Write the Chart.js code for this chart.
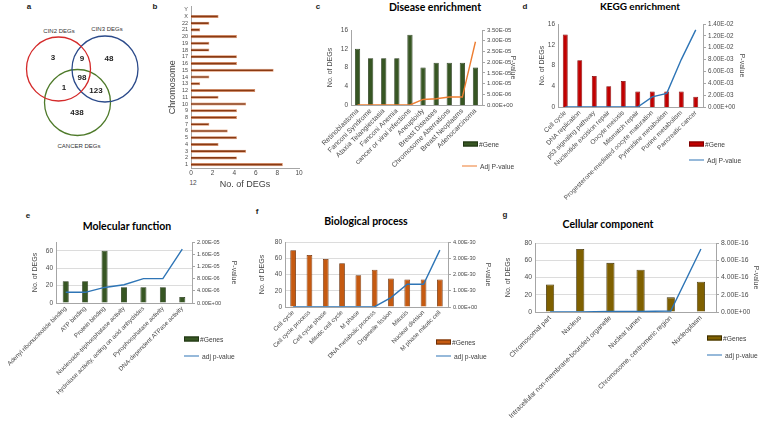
<!DOCTYPE html>
<html>
<head>
<title>DEG overlap and enrichment</title>
<script src="https://cdn.jsdelivr.net/npm/chart.js@4"></script>
<style>
    body { margin: 0; width: 760px; height: 426px; position: relative; overflow: hidden; background: #fff;
           font-family: 'Liberation Sans', Arial, sans-serif; }
    canvas { position: absolute; }
    .txt { position: absolute; white-space: nowrap; transform: translate(-50%, -50%); }
    .letter { font-size: 8px; font-weight: bold; color: #222; }
    .title { font-family: Lato, 'Open Sans', sans-serif; font-weight: bold; font-size: 10.5px; color: #000; }
    .set { font-size: 6px; color: #333; }
    .lg { position: absolute; display: flex; align-items: center; transform: translateY(-50%);
          font-size: 6.7px; color: #404040; white-space: nowrap; }
    .sw { display: inline-block; width: 15px; height: 5px; border: 1px solid; box-sizing: border-box; margin-right: 1px; }
    .ln { display: inline-block; width: 15px; height: 0; border-top: 1.5px solid; margin-right: 3px; }
</style>
</head>
<body>
<!-- panel letters -->
<div class="txt letter" style="left:29px;top:6px">a</div>
<div class="txt letter" style="left:155px;top:6px">b</div>
<div class="txt letter" style="left:318px;top:6px">c</div>
<div class="txt letter" style="left:525px;top:6px">d</div>
<div class="txt letter" style="left:28px;top:215px">e</div>
<div class="txt letter" style="left:257px;top:211px">f</div>
<div class="txt letter" style="left:505px;top:214px">g</div>

<!-- titles -->
<div class="txt title" style="left:435px;top:7px">Disease enrichment</div>
<div class="txt title" style="left:640px;top:6px;font-size:10px">KEGG enrichment</div>
<div class="txt title" style="left:127px;top:226px">Molecular function</div>
<div class="txt title" style="left:366px;top:221px">Biological process</div>
<div class="txt title" style="left:608px;top:224px">Cellular component</div>

<!-- venn set names -->
<div class="txt set" style="left:59px;top:31px">CIN2 DEGs</div>
<div class="txt set" style="left:107px;top:29px">CIN3 DEGs</div>
<div class="txt set" style="left:79px;top:146px">CANCER DEGs</div>
<div class="txt" style="left:193px;top:182px;font-size:6.5px;color:#4a4a4a">12</div>

<canvas id="chartA" width="150" height="160" style="left:0;top:0"></canvas>
<canvas id="chartB" width="155" height="195" style="left:150px;top:0"></canvas>
<canvas id="chartC" width="225" height="200" style="left:305px;top:12px"></canvas>
<canvas id="chartD" width="230" height="200" style="left:530px;top:12px"></canvas>
<canvas id="chartE" width="255" height="198" style="left:0;top:228px"></canvas>
<canvas id="chartF" width="250" height="198" style="left:255px;top:228px"></canvas>
<canvas id="chartG" width="290" height="198" style="left:470px;top:228px"></canvas>

<!-- legends -->
<div class="lg" style="left:463px;top:144px"><span class="sw" style="background:#375623;border-color:#1f3313"></span>#Gene</div>
<div class="lg" style="left:462px;top:166px"><span class="ln" style="border-color:#ED7D31"></span>Adj P-value</div>
<div class="lg" style="left:689px;top:144px"><span class="sw" style="background:#C00000;border-color:#7a0000"></span>#Gene</div>
<div class="lg" style="left:689px;top:160px"><span class="ln" style="border-color:#2E75B6"></span>Adj P-value</div>
<div class="lg" style="left:184px;top:339px"><span class="sw" style="background:#375623;border-color:#1f3313"></span>#Genes</div>
<div class="lg" style="left:184px;top:356px"><span class="ln" style="border-color:#2E75B6"></span>adj p-value</div>
<div class="lg" style="left:436px;top:342px"><span class="sw" style="background:#C55A11;border-color:#6b2f08"></span>#Genes</div>
<div class="lg" style="left:436px;top:356px"><span class="ln" style="border-color:#2E75B6"></span>adj p-value</div>
<div class="lg" style="left:707px;top:338px"><span class="sw" style="background:#7F6000;border-color:#3a2c00"></span>#Genes</div>
<div class="lg" style="left:707px;top:355px"><span class="ln" style="border-color:#2E75B6"></span>adj p-value</div>

<script>
    // ---- data ----
    // Venn: CIN2 only, CIN2&CIN3, CIN3 only, all three, CIN2&cancer, CIN3&cancer, cancer only
    const vennCounts = [3, 9, 48, 98, 1, 123, 438];

    const chromosomes = ['1', '2', '3', '4', '5', '6', '7', '8', '9', '10', '11', '12', '13', '14', '15', '16',
        '17', '18', '19', '20', '21', '22', 'X', 'Y'];
    const chromDegs = [8.5, 4.25, 5.1, 2.55, 4.25, 3.4, 1.7, 4.25, 4.25, 5.1, 2.55, 5.95, 0.85, 1.7, 7.65, 4.25,
        4.25, 1.7, 1.7, 4.25, 0.85, 1.7, 2.55, 0];

    const diseaseNames = ['Retinoblastoma', 'Fanconi Syndrome', 'Ataxia Telangiectasia', 'Fanconi Anemia',
        'cancer or viral infections', 'Aneuploidy', 'Breast Diseases', 'Chromosome Aberrations',
        'Breast Neoplasms', 'Adenocarcinoma'];
    const diseaseGenes = [12, 10, 10, 10, 15, 8, 9, 9, 9, 8];
    const diseasePval = [0, 0, 0, 0, 0, 2.6e-6, 2.9e-6, 3.7e-6, 3.7e-6, 2.95e-5];

    const keggNames = ['Cell cycle', 'DNA replication', 'p53 signaling pathway', 'Nucleotide excision repair',
        'Oocyte meiosis', 'Mismatch repair', 'Progesterone-mediated oocyte maturation', 'Pyrimidine metabolism',
        'Purine metabolism', 'Pancreatic cancer'];
    const keggGenes = [14, 9, 6, 4, 5, 3, 3, 3, 3, 2];
    const keggPval = [0, 0, 0, 0, 0, 0, 1.7e-3, 2.3e-3, 8.0e-3, 1.3e-2];

    const mfNames = ['Adenyl ribonucleotide binding', 'ATP binding', 'Protein binding',
        'Nucleoside-triphosphatase activity', 'Hydrolase activity, acting on acid anhydrides',
        'Pyrophosphatase activity', 'DNA-dependent ATPase activity'];
    const mfGenes = [25, 25, 60, 18, 18, 18, 7];
    const mfPval = [3.5e-6, 3.5e-6, 5.1e-6, 6.0e-6, 8.0e-6, 8.0e-6, 1.77e-5];

    const bpNames = ['Cell cycle', 'Cell cycle process', 'Cell cycle phase', 'Mitotic cell cycle', 'M phase',
        'DNA metabolic process', 'Organelle fission', 'Mitosis', 'Nuclear division', 'M phase mitotic cell'];
    const bpGenes = [70, 64, 59, 54, 39, 46, 35, 34, 34, 34];
    const bpPval = [0, 0, 0, 0, 0, 2e-32, 5.8e-31, 1.4e-30, 1.4e-30, 3.5e-30];

    const ccNames = ['Chromosomal part', 'Nucleus', 'Intracellular non-membrane-bounded organelle',
        'Nuclear lumen', 'Chromosome, centromeric region', 'Nucleoplasm'];
    const ccGenes = [32, 73, 57, 49, 17, 35];
    const ccPval = [0, 0, 5e-18, 5e-18, 1.2e-17, 7.3e-16];

    // ---- layout of the venn (pixel space of its canvas) ----
    const vennCircles = [
        {x: 58.5, y: 69, r: 32, color: '#D42A2A'},
        {x: 105, y: 69, r: 33, color: '#2B4A8A'},
        {x: 77.5, y: 102.5, r: 33, color: '#4E7A2A'}
    ];
    const vennCountPos = [[53, 58], [82, 59], [109, 59], [82, 78], [64, 88], [96, 91], [77, 113]];

    const TICK = '#4a4a4a';
    const FONT = "'Liberation Sans', Arial, sans-serif";

    // Excel style scientific labels, eg 3.50E-05
    function sci(v) {
        const parts = Number(v).toExponential(2).split('e');
        const sign = parts[1][0] === '-' ? '-' : '+';
        let exp = parts[1].replace(/[+-]/, '');
        if (exp.length < 2) exp = '0' + exp;
        return parts[0] + 'E' + sign + exp;
    }

    // ---- a: venn ----
    const vennText = {
        id: 'vennText',
        afterDatasetsDraw(chart) {
            const meta = chart.getDatasetMeta(vennCircles.length);
            const ctx = chart.ctx;
            ctx.save();
            ctx.font = 'bold 8px ' + FONT;
            ctx.fillStyle = '#222';
            ctx.textAlign = 'center';
            ctx.textBaseline = 'middle';
            meta.data.forEach((pt, i) => ctx.fillText(String(vennCounts[i]), pt.x, pt.y));
            ctx.restore();
        }
    };
    new Chart(document.getElementById('chartA'), {
        type: 'bubble',
        data: {
            datasets: vennCircles.map(c => ({
                data: [{x: c.x, y: c.y, r: c.r}],
                backgroundColor: 'rgba(0,0,0,0)',
                borderColor: c.color,
                borderWidth: 1.3
            })).concat([{
                data: vennCountPos.map(p => ({x: p[0], y: p[1], r: 0})),
                backgroundColor: 'rgba(0,0,0,0)',
                borderWidth: 0
            }])
        },
        options: {
            responsive: false, animation: false, events: [],
            layout: {autoPadding: false, padding: 0},
            plugins: {legend: {display: false}, tooltip: {enabled: false}},
            scales: {
                x: {type: 'linear', min: 0, max: 150, display: false},
                y: {type: 'linear', min: 0, max: 160, reverse: true, display: false}
            }
        },
        plugins: [vennText]
    });

    // ---- b: DEGs per chromosome ----
    new Chart(document.getElementById('chartB'), {
        type: 'bar',
        data: {
            labels: chromosomes,
            datasets: [{
                data: chromDegs,
                backgroundColor: '#8B3A12',
                borderColor: '#D9865A',
                borderWidth: 0.7,
                barPercentage: 0.45,
                categoryPercentage: 1
            }]
        },
        options: {
            indexAxis: 'y', responsive: false, animation: false, events: [],
            layout: {autoPadding: false, padding: {top: 1, left: 17, right: 6, bottom: 5}},
            plugins: {legend: {display: false}, tooltip: {enabled: false}},
            scales: {
                x: {
                    min: 0, max: 10,
                    ticks: {stepSize: 2, padding: 1, color: TICK, font: {family: FONT, size: 6.5}},
                    grid: {display: false, drawTicks: false},
                    border: {color: '#a6a6a6'},
                    title: {display: true, text: 'No. of DEGs', color: '#404040', padding: 0, font: {family: FONT, size: 9}},
                    afterFit: s => { s.height = 22; s.paddingLeft = 0; s.paddingRight = 0; }
                },
                y: {
                    reverse: true,
                    ticks: {autoSkip: false, padding: 3, color: TICK, font: {family: FONT, size: 5.5}},
                    grid: {display: false, drawTicks: false},
                    border: {color: '#a6a6a6'},
                    title: {display: true, text: 'Chromosome', color: '#404040', padding: 0, font: {family: FONT, size: 9}},
                    afterFit: s => { s.width = 24; }
                }
            }
        }
    });

    // ---- c-g: bar counts with an adjusted p-value line on a second axis ----
    function comboChart(id, o) {
        new Chart(document.getElementById(id), {
            data: {
                labels: o.labels,
                datasets: [{
                    type: 'line', data: o.pvals, yAxisID: 'y1',
                    borderColor: o.lineColor, borderWidth: 1.4, pointRadius: 0, tension: 0, order: 0
                }, {
                    type: 'bar', data: o.counts, yAxisID: 'y',
                    backgroundColor: o.barColor, borderColor: o.barBorder, borderWidth: 0.8,
                    barPercentage: o.barPct, categoryPercentage: 1, order: 1
                }]
            },
            options: {
                responsive: false, animation: false, events: [],
                layout: {autoPadding: false, padding: o.pad},
                plugins: {legend: {display: false}, tooltip: {enabled: false}},
                scales: {
                    x: {
                        grid: {display: false, drawTicks: false},
                        border: {color: '#a6a6a6'},
                        ticks: {autoSkip: false, minRotation: 45, maxRotation: 45, padding: 2, color: TICK,
                            font: {family: FONT, size: o.xFont}},
                        afterFit: s => { s.height = o.xH; s.paddingLeft = 0; s.paddingRight = 0; }
                    },
                    y: {
                        position: 'left', min: 0, max: o.yMax,
                        ticks: {stepSize: o.yStep, padding: 3, color: TICK, font: {family: FONT, size: o.yFont}},
                        grid: {display: o.grid, color: '#dcdcdc', drawTicks: false},
                        border: {color: '#a6a6a6'},
                        title: {display: true, text: 'No. of DEGs', color: TICK, padding: 0,
                            font: {family: FONT, size: o.axisTitle}},
                        afterFit: s => { s.width = o.yW; }
                    },
                    y1: {
                        position: 'right', min: 0, max: o.pMax,
                        ticks: {stepSize: o.pStep, padding: 2, color: TICK, font: {family: FONT, size: o.pFont},
                            callback: v => sci(v)},
                        grid: {display: true, drawOnChartArea: false, drawTicks: true, tickLength: 3, color: '#a6a6a6'},
                        border: {color: '#a6a6a6'},
                        title: {display: true, text: 'P-value', color: TICK, padding: 0,
                            font: {family: FONT, size: o.axisTitle}},
                        afterFit: s => { s.width = o.pW; }
                    }
                }
            }
        });
    }

    comboChart('chartC', {
        labels: diseaseNames, counts: diseaseGenes, pvals: diseasePval,
        barColor: '#375623', barBorder: '#1f3313', lineColor: '#ED7D31', barPct: 0.4,
        yMax: 16, yStep: 2, pMax: 3.5e-5, pStep: 5e-6, grid: false,
        pad: {top: 18, left: 21, right: 13, bottom: 0}, yW: 25, pW: 35, xH: 107,
        xFont: 7, yFont: 6.5, pFont: 6, axisTitle: 7
    });

    comboChart('chartD', {
        labels: keggNames, counts: keggGenes, pvals: keggPval,
        barColor: '#C00000', barBorder: '#7a0000', lineColor: '#2E75B6', barPct: 0.34,
        yMax: 16, yStep: 2, pMax: 1.4e-2, pStep: 2e-3, grid: false,
        pad: {top: 12, left: 8, right: 14, bottom: 0}, yW: 20, pW: 43, xH: 105,
        xFont: 6.6, yFont: 6.5, pFont: 6.3, axisTitle: 7
    });

    comboChart('chartE', {
        labels: mfNames, counts: mfGenes, pvals: mfPval,
        barColor: '#375623', barBorder: '#1f3313', lineColor: '#2E75B6', barPct: 0.31,
        yMax: 70, yStep: 10, pMax: 2e-5, pStep: 2e-6, grid: true,
        pad: {top: 14, left: 31, right: 17, bottom: 0}, yW: 25, pW: 46, xH: 123,
        xFont: 6.2, yFont: 6.5, pFont: 5.6, axisTitle: 7
    });

    comboChart('chartF', {
        labels: bpNames, counts: bpGenes, pvals: bpPval,
        barColor: '#C55A11', barBorder: '#6b2f08', lineColor: '#2E75B6', barPct: 0.35,
        yMax: 80, yStep: 10, pMax: 4e-30, pStep: 5e-31, grid: true,
        pad: {top: 14, left: 3, right: 13, bottom: 0}, yW: 27, pW: 44, xH: 119,
        xFont: 6.2, yFont: 6.5, pFont: 5.6, axisTitle: 7
    });

    comboChart('chartG', {
        labels: ccNames, counts: ccGenes, pvals: ccPval,
        barColor: '#7F6000', barBorder: '#3a2c00', lineColor: '#2E75B6', barPct: 0.27,
        yMax: 80, yStep: 10, pMax: 8e-16, pStep: 1e-16, grid: true,
        pad: {top: 15, left: 34, right: 0, bottom: 0}, yW: 31, pW: 44, xH: 114,
        xFont: 6.8, yFont: 6.8, pFont: 6.8, axisTitle: 7
    });
</script>
</body>
</html>
